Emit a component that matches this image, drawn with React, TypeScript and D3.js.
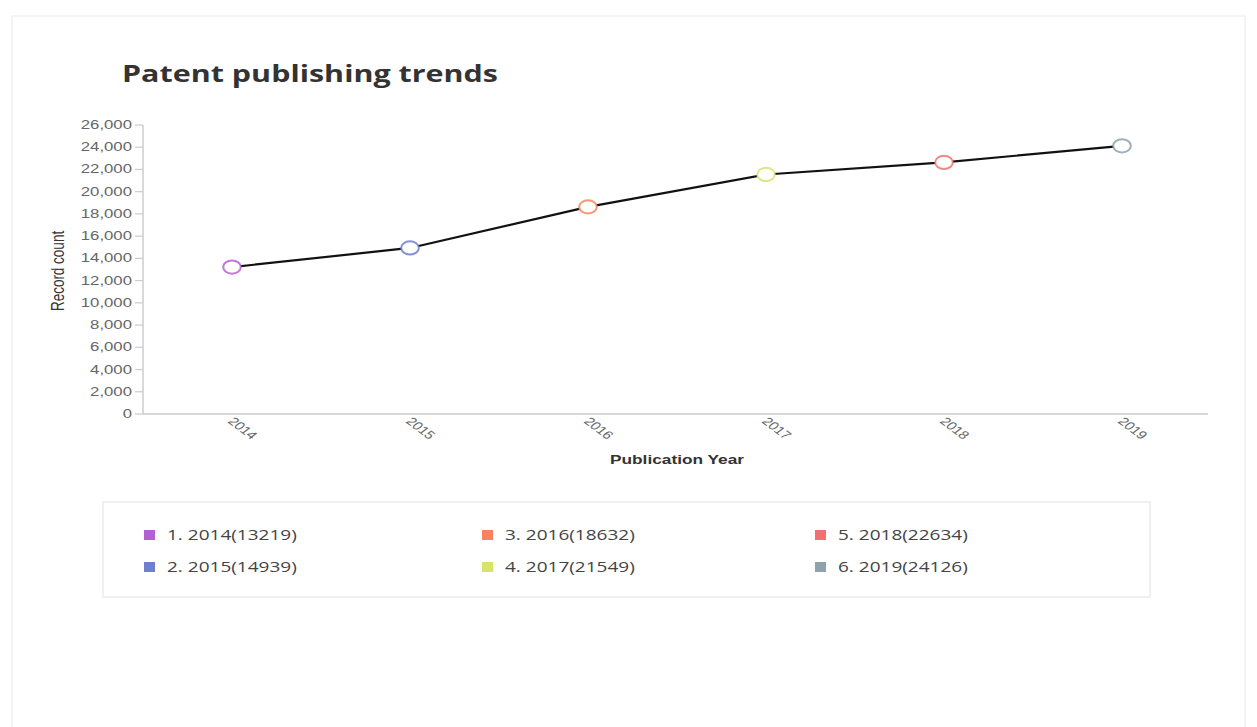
import React from "react";
import * as d3 from "d3";

const years: string[] = ["2014", "2015", "2016", "2017", "2018", "2019"];
const counts: number[] = [13219, 14939, 18632, 21549, 22634, 24126];
const colors: string[] = ["#b460d2", "#6f7fd0", "#f5845c", "#d8e36a", "#f27070", "#8fa2ab"];
const yTicks: number[] = [0, 2000, 4000, 6000, 8000, 10000, 12000, 14000, 16000, 18000, 20000, 22000, 24000, 26000];

const W = 1257;
const H = 727;
const S = 1.33; // horizontal stretch of the reference
const plot = { left: 143, right: 1211, top: 125, bottom: 414 };

export default function App() {
  const x = d3.scalePoint<string>().domain(years).range([plot.left, plot.right]).padding(0.5);
  const y = d3.scaleLinear().domain([0, 26000]).range([plot.bottom, plot.top]);
  const fmt = d3.format(",");
  const line = d3
    .line<number>()
    .x((_, i) => x(years[i]) as number)
    .y((d) => y(d));

  const legendCols = [144, 482, 815];
  const legendRows = [535, 567];

  return (
    <svg
      width={W}
      height={H}
      style={{ position: "absolute", left: 0, top: 0, display: "block", background: "#fff" }}
    >
      <rect x={12} y={16} width={1233} height={740} fill="#fff" stroke="#f4f4f4" strokeWidth={2} />
      <text
        transform={`translate(122,82) scale(${S},1)`}
        fontFamily="'Open Sans', sans-serif"
        fontWeight={700}
        fontSize={22.9}
        fill="#333"
      >
        Patent publishing trends
      </text>

      {/* y axis */}
      <line x1={plot.left} x2={plot.left} y1={plot.top} y2={plot.bottom} stroke="#ccc" strokeWidth={1.5} />
      {yTicks.map((t) => (
        <g key={t}>
          <line x1={plot.left - 8} x2={plot.left} y1={y(t)} y2={y(t)} stroke="#ccc" strokeWidth={1.2} />
          <text
            transform={`translate(${plot.left - 11},${y(t) + 4}) scale(${S},1)`}
            textAnchor="end"
            fontFamily="'Liberation Sans', Arial, sans-serif"
            fontSize={12.6}
            fill="#666"
          >
            {fmt(t)}
          </text>
        </g>
      ))}
      <text
        transform={`translate(64,271) scale(${S},1) rotate(-90)`}
        textAnchor="middle"
        fontFamily="'Liberation Sans', Arial, sans-serif"
        fontSize={13.5}
        fill="#333"
      >
        Record count
      </text>

      {/* x axis */}
      <line x1={plot.left} x2={1208} y1={plot.bottom} y2={plot.bottom} stroke="#ccc" strokeWidth={1.5} />
      {years.map((yr) => (
        <text
          key={yr}
          transform={`translate(${(x(yr) as number) + 7},${plot.bottom + 17}) scale(${S},1) rotate(45)`}
          textAnchor="middle"
          fontFamily="'Liberation Sans', Arial, sans-serif"
          fontSize={11.5}
          fill="#666"
        >
          {yr}
        </text>
      ))}
      <text
        transform={`translate(677,464) scale(${S},1)`}
        textAnchor="middle"
        fontFamily="'Liberation Sans', Arial, sans-serif"
        fontWeight={700}
        fontSize={13}
        fill="#333"
      >
        Publication Year
      </text>

      {/* line */}
      <path d={line(counts) || ""} fill="none" stroke="#111" strokeWidth={2.2} />
      {counts.map((c, i) => (
        <ellipse
          key={years[i]}
          cx={x(years[i]) as number}
          cy={y(c)}
          rx={8.8}
          ry={6.6}
          fill="#fff"
          stroke={colors[i]}
          strokeWidth={2}
          strokeOpacity={0.85}
        />
      ))}

      {/* legend */}
      <rect x={103} y={502} width={1047} height={95} fill="#fff" stroke="#ececec" strokeWidth={1.5} />
      {years.map((yr, i) => {
        const col = Math.floor(i / 2);
        const row = i % 2;
        const lx = legendCols[col];
        const ly = legendRows[row];
        return (
          <g key={yr}>
            <rect x={lx} y={ly - 5} width={11} height={10} fill={colors[i]} />
            <text
              transform={`translate(${lx + 23},${ly + 5}) scale(${S},1)`}
              fontFamily="'Open Sans', sans-serif"
              fontSize={14.3}
              fill="#444"
            >
              {`${i + 1}. ${yr}(${counts[i]})`}
            </text>
          </g>
        );
      })}
    </svg>
  );
}
